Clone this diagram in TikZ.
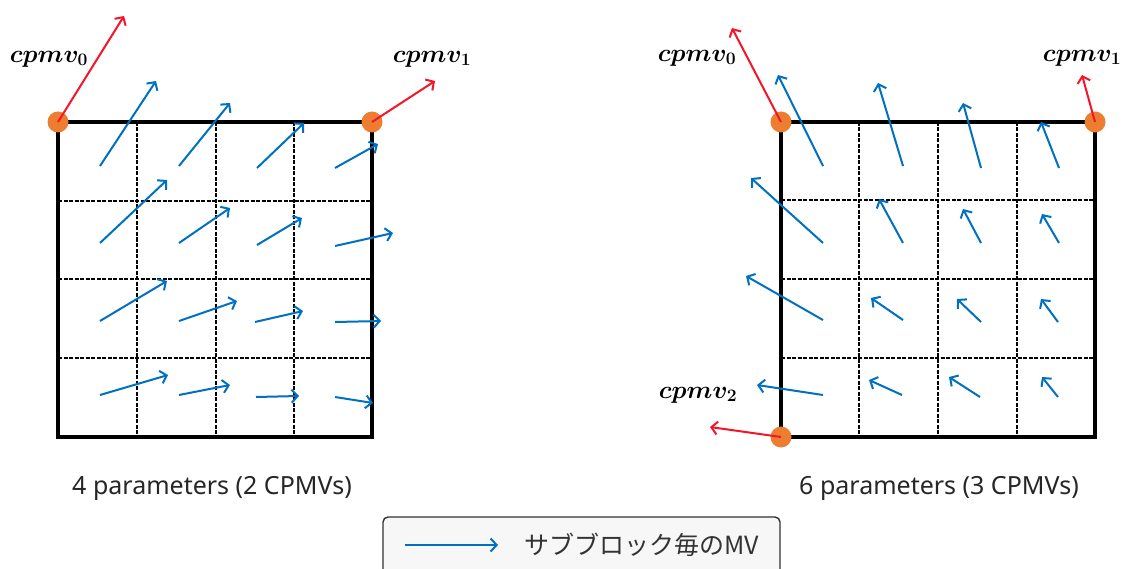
\RequirePackage{fix-cm}
\documentclass[tikz,border=0pt]{standalone}
\usepackage{fontspec}
\usepackage{amsmath,bm}
\setmainfont{Noto Sans}
\newfontfamily\jpfont{Noto Sans CJK JP}
\usetikzlibrary{arrows.meta}
\definecolor{mvblue}{RGB}{0,112,192}
\definecolor{cpred}{RGB}{245,20,40}
\definecolor{dotorange}{RGB}{237,125,49}
\begin{document}
\begin{tikzpicture}[x=1pt,y=-1pt,
  outer/.style={line width=3.2pt, black, line join=miter},
  inner/.style={line width=1.4pt, black, dash pattern=on 4pt off 1.5pt},
  mv/.style={mvblue, line width=2pt, -{Straight Barb[length=6pt,width=13pt,line width=2pt]}},
  cp/.style={cpred, line width=2pt, -{Straight Barb[length=6pt,width=13pt,line width=2pt]}},
  corner/.style={circle, fill=dotorange, minimum size=21pt, inner sep=0pt},
  cplbl/.style={font=\fontsize{25}{28}\selectfont, inner sep=0pt},
  caption/.style={font=\fontsize{25}{29}\selectfont, inner sep=0pt, color=black!85}]
\useasboundingbox (0,0) rectangle (1123,569);
\fill[white] (0,0) rectangle (1123,569);

% ---------- left block (4 parameters) ----------
\foreach \x in {137,216,294} \draw[inner] (\x,122) -- (\x,437);
\foreach \y in {201,279,358} \draw[inner] (58,\y) -- (372,\y);
\draw[outer] (58,122) rectangle (372,437);

\foreach \sx/\sy/\ex/\ey in {
  100/166/156/81, 179/166/230/103, 257/168/304/123, 335/168/378/144,
  100/243/167/180, 179/243/230/208, 257/245/302/218, 335/246/393/233,
  100/321/167/281, 179/321/237/301, 255/322/303/311, 335/322/381/321,
  100/395/168/375, 179/395/230/385, 256/397/299/396, 335/397/373/403}
  \draw[mv] (\sx,\sy) -- (\ex,\ey);

\node[corner] (L0) at (58,122) {};
\node[corner] (L1) at (372,122) {};
\coordinate (L0e) at (124,16);
\coordinate (L1e) at (435,81);
\draw[cp] (L0.center) -- (L0e);
\draw[cp] (L1.center) -- (L1e);
\node[cplbl] (L0l) at (49,59) {$\bm{cpmv_0}$};
\node[cplbl] (L1l) at (432,59) {$\bm{cpmv_1}$};
\node[caption] (Lcap) at (212,488) {4 parameters (2 CPMVs)};

% ---------- right block (6 parameters) ----------
\foreach \x in {859,938,1017} \draw[inner] (\x,122) -- (\x,437);
\foreach \y in {200,279,358} \draw[inner] (781,\y) -- (1095,\y);
\draw[outer] (781,122) rectangle (1095,437);

\foreach \sx/\sy/\ex/\ey in {
  823/166/778/75, 903/166/878/83, 981/168/963/103, 1059/168/1041/122,
  823/243/751/178, 903/243/879/199, 981/243/963/209, 1059/243/1042/214,
  823/320/746/276, 903/320/871/298, 981/322/957/299, 1058/322/1041/299,
  823/395/757/385, 902/395/869/380, 980/397/949/377, 1058/397/1042/377}
  \draw[mv] (\sx,\sy) -- (\ex,\ey);

\node[corner] (R0) at (781,122) {};
\node[corner] (R1) at (1095,122) {};
\node[corner] (R2) at (781,437) {};
\coordinate (R0e) at (732,28);
\coordinate (R1e) at (1082,75);
\coordinate (R2e) at (710,427);
\draw[cp] (R0.center) -- (R0e);
\draw[cp] (R1.center) -- (R1e);
\draw[cp] (R2.center) -- (R2e);
\node[cplbl] (R0l) at (697,58) {$\bm{cpmv_0}$};
\node[cplbl] (R1l) at (1082,58) {$\bm{cpmv_1}$};
\node[cplbl] (R2l) at (698,395) {$\bm{cpmv_2}$};
\node[caption] (Rcap) at (939,488) {6 parameters (3 CPMVs)};

% ---------- legend ----------
\draw[line width=1.4pt, draw=black!80, fill=black!3, rounded corners=5pt] (383,517) rectangle (780,590);
\coordinate (lgs) at (405,545);
\coordinate (lge) at (498,545);
\draw[mv] (lgs) -- (lge);
\node[font=\jpfont\fontsize{25}{29}\selectfont, inner sep=0pt, color=black!80] (lgt) at (642,545) {サブブロック毎のMV};
\end{tikzpicture}
\end{document}
